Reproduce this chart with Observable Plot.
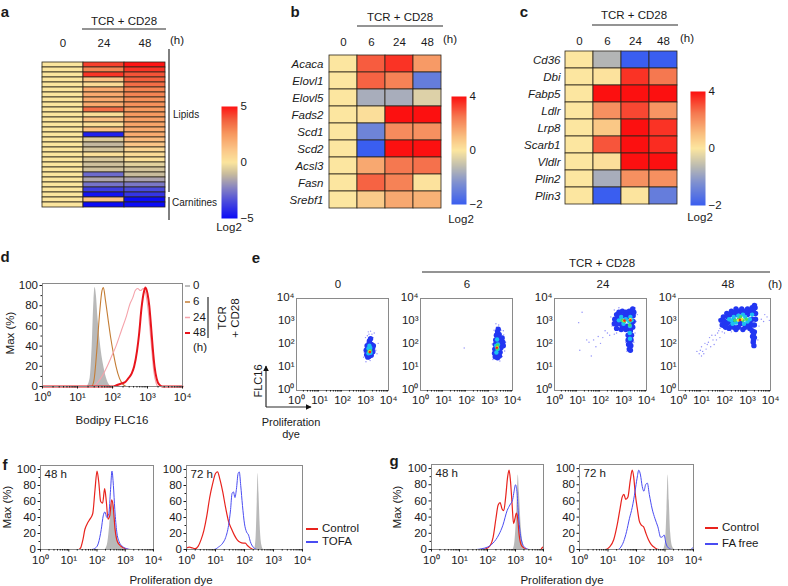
<!DOCTYPE html>
<html><head><meta charset="utf-8">
<script src="https://cdn.jsdelivr.net/npm/d3@7"></script>
<script src="https://cdn.jsdelivr.net/npm/@observablehq/plot@0.6"></script>
<style>
body{margin:0;background:#fff;}
#fig{position:relative;width:788px;height:586px;overflow:hidden;font-family:'Liberation Sans',Arial,Helvetica,sans-serif;color:#1a1a1a;background:#fff;}
#fig svg{position:absolute;}
.t{position:absolute;white-space:nowrap;line-height:1;}
</style></head>
<body><div id="fig"></div>
<script>
// ================= DATA =================
// Panel a: lipid / carnitine metabolites (log2 fold change)
const aCols = ["0", "24", "48"];
const aRowCount = 29; // 25 lipids + 4 carnitines
const a0  = [0,0,0,0,0,0,0,0,0,0,0,0,0,0,0,0,0,0,0,0,0,0,0,0,0,0,0,0,0];
const a24 = [4.3,3,4.5,1.2,0.4,2,2,2,2,3.5,0.3,1.3,0.3,1.3,-4.5,-0.6,-1.1,-0.8,0.2,-0.7,-0.9,-0.9,-2.8,-1.5,-2.6,-3.8,-4.8,1.2,-5];
const a48 = [5,4.5,4,3.8,3.5,3,3,2.7,2.7,2.5,2.5,2.3,2.2,2,2,1.5,1.2,0.6,0.4,0.2,-0.5,-0.8,-1,-1.6,-2.5,-3.5,-4,-5,-5];
const legendA = [-5, 0, 5];

// Panel b: lipid synthesis genes
const bCols = ["0", "6", "24", "48"];
const bGenes = ["Acaca","Elovl1","Elovl5","Fads2","Scd1","Scd2","Acsl3","Fasn","Srebf1"];
const b0  = [0,0,0,0,0,0,0,0,0];
const b6  = [2.9,2.8,-0.8,0.2,-1.4,-2,1.5,2.8,0.7];
const b24 = [3.5,2.3,-0.8,4,2.1,4,2.5,2.3,1.5];
const b48 = [1.8,-1.5,-0.3,4,2,4,2.6,0.1,1.3];

// Panel c: lipid uptake / storage genes
const cCols = ["0", "6", "24", "48"];
const cGenes = ["Cd36","Dbi","Fabp5","Ldlr","Lrp8","Scarb1","Vldlr","Plin2","Plin3"];
const c0  = [0,0,0,0,0,0,0,0,0];
const c6  = [-0.7,0.1,4,2,0.8,3,0.2,-0.8,-2];
const c24 = [-2,3.5,4,3.2,4,4,4,2,0.05];
const c48 = [-2,2.5,4,1.9,3.5,3.6,4,2,-1.5];
const legendBC = [-2, 0, 4];

// Panel d: Bodipy FLC16 histograms [log10 intensity, % of max]
const d0h  = [[1.28,0],[1.36,8],[1.42,40],[1.47,85],[1.5,98],[1.54,90],[1.58,70],[1.63,50],[1.68,35],[1.75,20],[1.85,6],[1.95,0]];
const d6h  = [[0,0],[1.4,0],[1.47,6],[1.55,35],[1.63,72],[1.7,95],[1.74,98],[1.8,85],[1.88,65],[1.95,48],[2.03,32],[2.1,20],[2.2,8],[2.3,2],[2.4,0],[4,0]];
const d24h = [[0,0],[1.45,0],[1.55,3],[1.7,10],[1.85,20],[1.95,28],[2.1,40],[2.25,55],[2.4,70],[2.5,82],[2.58,88],[2.65,95],[2.72,97],[2.8,95],[2.88,97],[2.95,92],[3.02,75],[3.1,45],[3.18,15],[3.25,3],[3.3,0],[4,0]];
const d48h = [[0,0],[2.0,0],[2.1,1],[2.25,3],[2.35,4],[2.45,8],[2.55,13],[2.62,20],[2.7,35],[2.76,52],[2.83,78],[2.9,94],[2.94,98],[3.0,92],[3.05,80],[3.1,60],[3.15,38],[3.2,20],[3.26,8],[3.33,2],[3.42,0],[4,0]];
const dLegend = ["0", "6", "24", "48"];

// Panel e: FLC16 vs proliferation dye [log10 dye, log10 FLC16, density level 0-5]
const e0Pts = [
 [3.0,2.3,0],[3.15,2.45,0],[3.22,2.58,0],[3.33,2.3,0],[3.42,1.95,0],[3.5,1.6,0],[2.95,1.65,0],[3.08,2.38,0],[3.28,2.45,0],[3.45,1.75,0],[2.92,1.45,0],[3.2,1.3,0],[3.55,2.05,0],[3.02,1.25,0],[3.38,2.5,0],[3.12,2.55,0],
 [3.05,1.55,1],[3.15,1.48,1],[3.25,1.53,1],[3.32,1.68,1],[3.31,1.85,1],[3.26,2.0,1],[3.16,2.06,1],[3.07,1.95,1],[3.03,1.75,1],[3.12,1.68,1],[3.22,1.8,1],[3.17,2.15,1],[3.22,2.25,1],[3.34,1.95,1],[3.1,1.45,1],[3.18,1.9,1],[3.1,1.85,1],
 [3.13,1.62,2],[3.22,1.64,2],[3.21,1.85,2],[3.13,1.83,2],[3.17,1.95,2],
 [3.16,1.7,3],[3.21,1.74,3],
 [3.18,1.7,4],
 [3.19,1.67,5]
];
const e6Pts = [
 [3.3,2.75,0],[3.4,2.85,0],[3.2,2.62,0],[3.5,2.62,0],[3.62,2.42,0],[3.7,2.1,0],[3.66,1.72,0],[3.15,1.35,0],[3.45,1.28,0],[3.12,2.02,0],[1.9,1.85,0],[3.56,1.48,0],[3.28,2.9,0],[3.6,2.6,0],
 [3.25,1.47,1],[3.35,1.42,1],[3.43,1.5,1],[3.46,1.66,1],[3.5,1.86,1],[3.48,2.05,1],[3.45,2.25,1],[3.42,2.44,1],[3.35,2.56,1],[3.3,2.4,1],[3.27,2.2,1],[3.25,2.0,1],[3.23,1.8,1],[3.22,1.62,1],[3.33,1.7,1],[3.38,2.1,1],[3.58,2.1,1],[3.6,1.95,1],[3.55,2.28,1],[3.38,2.66,1],[3.38,2.35,1],[3.4,1.6,1],
 [3.3,1.65,2],[3.36,1.8,2],[3.37,2.0,2],[3.33,2.22,2],[3.29,1.95,2],
 [3.33,1.82,3],[3.35,1.96,3],
 [3.33,1.88,4],
 [3.32,1.86,5]
];
const e24Pts = [
 [2.5,2.8,0],[2.45,3.2,0],[2.6,3.5,0],[2.8,3.6,0],[3.5,3.6,0],[3.55,3.0,0],[3.5,2.5,0],[3.45,2.1,0],[3.1,2.1,0],[3.15,1.7,0],[2.3,2.5,0],[2.1,2.3,0],[1.9,2.35,0],[1.7,2.2,0],[1.5,2.1,0],[2.0,2.05,0],[2.2,2.6,0],[1.4,2.2,0],[1.1,1.75,0],[1.6,1.5,0],[1.2,3.4,0],[1.05,2.95,0],[2.4,2.4,0],[2.6,2.45,0],[1.8,1.9,0],[2.7,2.5,0],[3.6,3.3,0],
 [2.6,2.9,1],[2.62,3.1,1],[2.7,3.3,1],[2.8,3.4,1],[2.95,3.45,1],[3.1,3.4,1],[3.25,3.45,1],[3.38,3.45,1],[3.42,3.25,1],[3.42,3.0,1],[3.4,2.75,1],[3.3,2.6,1],[3.1,2.65,1],[2.9,2.65,1],[2.7,2.7,1],[2.85,2.9,1],[3.0,3.25,1],[3.2,3.2,1],
 [2.7,2.9,1],[2.75,3.15,1],[2.85,3.3,1],[2.95,2.8,1],[3.05,2.75,1],[3.15,2.8,1],[3.15,3.3,1],[3.35,3.35,1],[3.35,2.85,1],[3.25,2.7,1],[2.68,3.05,1],[3.3,3.3,1],
 [3.2,2.4,1],[3.35,2.4,1],[3.2,2.2,1],[3.33,2.2,1],[3.22,2.0,1],[3.32,1.95,1],[3.25,1.8,1],[3.3,1.75,1],[3.45,3.4,1],[3.4,3.55,1],[3.27,2.3,1],[3.27,2.05,1],
 [2.8,3.05,2],[2.9,3.2,2],[3.0,2.9,2],[3.1,3.1,2],[3.25,3.0,2],[3.3,3.2,2],[3.28,2.8,2],[3.27,2.5,2],[3.28,2.25,2],[2.95,3.05,2],[3.35,3.05,2],
 [2.95,3.05,3],[3.05,3.0,3],[3.3,3.05,3],[3.27,2.85,3],
 [3.02,3.03,4],[3.3,3.1,4],
 [3.04,3.04,5],[3.3,3.05,5]
];
const e48Pts = [
 [0.9,1.6,0],[1.0,1.9,0],[1.2,1.8,0],[1.3,2.1,0],[1.5,2.2,0],[1.6,2.4,0],[1.7,2.5,0],[1.4,1.9,0],[1.1,1.6,0],[0.95,1.75,0],[1.25,2.0,0],[1.55,2.0,0],[1.8,2.3,0],[1.9,2.55,0],[1.35,2.3,0],[1.65,2.2,0],[1.0,1.5,0],[0.8,1.7,0],[1.15,2.05,0],[1.45,2.4,0],[1.05,1.7,0],[1.75,2.6,0],
 [3.6,3.1,0],[3.7,3.0,0],[3.85,3.2,0],[3.95,3.05,0],[3.75,3.3,0],[3.5,2.8,0],[3.45,2.2,0],[3.4,3.75,0],[1.75,3.1,0],[1.8,2.7,0],[2.0,2.5,0],[2.3,2.55,0],
 [1.9,2.85,1],[1.85,3.05,1],[1.95,3.2,1],[2.1,3.35,1],[2.3,3.45,1],[2.5,3.55,1],[2.75,3.55,1],[3.0,3.55,1],[3.2,3.6,1],[3.33,3.6,1],[3.35,3.35,1],[3.35,3.1,1],[3.3,2.85,1],[3.1,2.7,1],[2.8,2.65,1],[2.5,2.65,1],[2.2,2.7,1],[2.0,2.8,1],[2.2,3.0,1],[2.5,3.3,1],[3.0,3.3,1],[3.1,2.95,1],
 [2.0,3.0,1],[2.1,2.9,1],[2.15,3.2,1],[2.3,3.3,1],[2.3,2.8,1],[2.45,3.4,1],[2.6,3.45,1],[2.6,2.75,1],[2.75,3.4,1],[2.9,3.45,1],[2.9,2.75,1],[3.05,3.45,1],[3.15,3.45,1],[3.2,3.1,1],[3.2,2.85,1],[3.25,3.5,1],[2.4,2.75,1],[2.05,2.75,1],[2.4,3.05,1],[2.7,3.0,1],[3.0,2.85,1],
 [3.2,2.6,1],[3.3,2.55,1],[3.22,2.35,1],[3.3,2.3,1],[3.25,2.1,1],[3.28,1.95,1],[3.3,3.7,1],[2.7,2.9,1],[3.26,2.45,1],[3.26,2.2,1],
 [2.2,3.1,2],[2.4,3.2,2],[2.5,2.95,2],[2.6,3.25,2],[2.9,3.2,2],[2.85,2.9,2],[3.1,3.1,2],[3.2,3.3,2],[2.35,2.9,2],[3.0,3.0,2],[2.3,3.05,2],[2.8,3.3,2],
 [2.45,3.05,3],[2.6,3.1,3],[2.8,3.05,3],[2.95,3.1,3],[2.7,3.2,3],
 [2.6,3.05,4],[2.75,3.1,4],
 [2.67,3.07,5]
];
const eTimes = ["0", "6", "24", "48"];

// Panel f: proliferation dye, Control vs TOFA [log10 dye, % of max]
const f48Grey = [[2.3,0],[2.38,8],[2.45,30],[2.5,50],[2.55,58],[2.6,50],[2.68,25],[2.78,8],[2.9,2],[3.0,0]];
const f48Ctrl = [[0,0],[1.35,0],[1.42,2],[1.5,12],[1.57,25],[1.65,32],[1.75,38],[1.85,45],[1.93,75],[2.0,98],[2.06,85],[2.13,60],[2.2,58],[2.27,76],[2.33,60],[2.39,38],[2.45,42],[2.52,62],[2.57,55],[2.64,25],[2.72,10],[2.85,4],[3.0,1],[3.15,0],[4,0]];
const f48Tofa = [[0,0],[1.8,0],[1.95,2],[2.05,8],[2.15,25],[2.22,42],[2.28,47],[2.35,40],[2.42,45],[2.48,75],[2.53,98],[2.58,80],[2.63,50],[2.7,22],[2.78,10],[2.9,4],[3.05,1],[3.2,0],[4,0]];
const f72Grey = [[2.35,0],[2.4,15],[2.44,60],[2.47,95],[2.5,70],[2.54,30],[2.6,5],[2.65,0]];
const f72Ctrl = [[0,2],[0.1,3],[0.2,2],[0.3,1],[0.4,4],[0.5,12],[0.6,24],[0.7,42],[0.8,65],[0.9,82],[1.0,95],[1.07,97],[1.15,88],[1.25,72],[1.35,52],[1.45,35],[1.55,26],[1.65,18],[1.75,12],[1.85,9],[1.95,8],[2.03,8],[2.1,5],[2.2,2],[2.35,0],[4,0]];
const f72Tofa = [[0,0],[0.95,0],[1.1,3],[1.25,8],[1.35,15],[1.45,30],[1.52,50],[1.57,70],[1.62,72],[1.67,65],[1.72,75],[1.78,95],[1.82,97],[1.87,80],[1.93,55],[2.0,32],[2.07,22],[2.14,18],[2.2,10],[2.3,3],[2.45,0],[4,0]];
const fSeries = ["Control", "TOFA"];

// Panel g: proliferation dye, Control vs FA free
const g48Grey = [[2.92,0],[2.98,10],[3.05,50],[3.1,92],[3.14,70],[3.2,30],[3.27,8],[3.35,0]];
const g48Ctrl = [[0,0],[1.8,0],[1.95,1],[2.1,5],[2.2,15],[2.3,38],[2.38,55],[2.45,58],[2.52,50],[2.58,48],[2.65,65],[2.72,90],[2.77,98],[2.82,85],[2.88,55],[2.93,32],[2.98,38],[3.03,45],[3.08,38],[3.13,18],[3.2,6],[3.3,2],[3.45,0],[3.9,0],[3.97,3],[4,1]];
const g48Fafree = [[0,0],[1.6,0],[1.8,1],[2.0,3],[2.2,8],[2.4,18],[2.55,30],[2.7,48],[2.8,55],[2.9,62],[2.95,72],[3.0,80],[3.05,72],[3.1,45],[3.17,20],[3.25,7],[3.35,2],[3.5,0],[4,0]];
const g72Grey = [[2.95,0],[3.02,10],[3.07,50],[3.11,92],[3.15,60],[3.2,20],[3.27,3],[3.33,0]];
const g72Ctrl = [[0,0],[0.9,0],[1.05,3],[1.2,12],[1.32,30],[1.42,50],[1.5,65],[1.56,68],[1.62,62],[1.7,65],[1.78,85],[1.85,98],[1.9,90],[1.96,68],[2.03,50],[2.1,35],[2.17,30],[2.25,28],[2.33,20],[2.42,12],[2.52,6],[2.65,2],[2.8,0],[4,0]];
const g72Fafree = [[0,0],[1.35,0],[1.45,3],[1.55,10],[1.65,22],[1.75,38],[1.85,52],[1.95,72],[2.02,88],[2.08,98],[2.14,92],[2.2,78],[2.26,72],[2.32,80],[2.38,82],[2.45,68],[2.55,50],[2.65,38],[2.75,28],[2.85,15],[2.92,16],[2.97,18],[3.03,8],[3.12,2],[3.25,0],[3.9,0],[3.97,2],[4,1]];
const gSeries = ["Control", "FA free"];

// Axis tick values
const decades = [1, 10, 100, 1000, 10000];
const pctMajor = [0, 20, 40, 60, 80, 100];
const pctMinor = [10, 30, 50, 70, 90];

// ================= HELPERS =================
const fig = document.getElementById("fig");
const FONT = "'Liberation Sans', Arial, Helvetica, sans-serif";
const baseStyle = {fontFamily: FONT, fontSize: "11px", color: "#1a1a1a", background: "transparent", overflow: "visible"};
const fmtMinus = v => (v < 0 ? "\u2212" + Math.abs(v) : String(v));
const SUP = {0: "\u2070", 1: "\u00b9", 2: "\u00b2", 3: "\u00b3", 4: "\u2074"};
const pow10 = v => "10" + SUP[Math.round(Math.log10(v))];
const minorX = [];
for (const k of [1, 10, 100, 1000]) for (const m of [2,3,4,5,6,7,8,9]) minorX.push(k * m);

function place(node, fx, fy, mL, mT) {
  node.style.position = "absolute";
  node.style.left = (fx - mL) + "px";
  node.style.top = (fy - mT) + "px";
  fig.appendChild(node);
}
function label(str, x, y, o = {}) {
  const d = document.createElement("div");
  d.className = "t";
  if (o.html) d.innerHTML = str; else d.textContent = str;
  const tx = o.anchor === "start" ? "0" : o.anchor === "end" ? "-100%" : "-50%";
  d.style.left = x + "px";
  d.style.top = y + "px";
  d.style.fontSize = (o.size || 11) + "px";
  if (o.bold) d.style.fontWeight = "bold";
  if (o.italic) d.style.fontStyle = "italic";
  if (o.align) d.style.textAlign = o.align;
  if (o.lh) d.style.lineHeight = o.lh;
  d.style.transform = `translate(${tx},-50%)` + (o.rotate ? ` rotate(${o.rotate}deg)` : "");
  fig.appendChild(d);
}

const colorA = {type: "linear", domain: [-5, -3.5, -2.2, -1, 0, 1.2, 2.5, 3.8, 5],
  range: ["#0b0bf6", "#4a4adc", "#8a86c0", "#c9bc9c", "#fbe59d", "#fbc486", "#f79a60", "#f2603e", "#ff1414"]};
const colorBC = {type: "linear", domain: [-2, -1.2, -0.6, 0, 1, 2.5, 4],
  range: ["#3a5ef0", "#7f90d0", "#bdbcb0", "#fce6a0", "#f9c080", "#f57850", "#fc1010"]};

function heatmap({cols, rows, series, color, fx, fy, fw, fh, mL, rowLabels, pad}) {
  const data = [];
  rows.forEach((r, i) => cols.forEach((c, j) => data.push({row: r, col: c, v: series[j][i]})));
  const mT = 24, mB = 2, mR = 2;
  const marks = [
    Plot.cell(data, {x: "col", y: "row", fill: "v", stroke: "#2b2519", strokeWidth: 0.8, inset: 0}),
    Plot.axisX({anchor: "top", tickSize: 0, tickPadding: pad, label: null})
  ];
  if (rowLabels) marks.push(Plot.axisY({anchor: "left", tickSize: 0, tickPadding: 4, label: null, fontStyle: "italic"}));
  const p = Plot.plot({
    width: fw + mL + mR, height: fh + mT + mB,
    marginLeft: mL, marginRight: mR, marginTop: mT, marginBottom: mB,
    x: {domain: cols, padding: 0, axis: null},
    y: {domain: rows, padding: 0, axis: null},
    color, style: {...baseStyle, fontSize: "11.5px"},
    marks
  });
  place(p, fx, fy, mL, mT);
}

function colorbar({fx, fy, fw, fh, color, ticks, toValue, fmt}) {
  const mL = 0, mR = 24, mT = 7, mB = 7;
  const p = Plot.plot({
    width: fw + mL + mR, height: fh + mT + mB,
    marginLeft: mL, marginRight: mR, marginTop: mT, marginBottom: mB,
    x: {domain: [0, 1], axis: null},
    y: {domain: [0, 1], axis: null},
    color, style: {...baseStyle, fontSize: "11.5px"},
    marks: [
      Plot.raster({fill: (x, y) => toValue(y), x1: 0, x2: 1, y1: 0, y2: 1}),
      Plot.axisY({anchor: "right", ticks, tickFormat: fmt, tickSize: 0, tickPadding: 3, label: null})
    ]
  });
  place(p, fx, fy, mL, mT);
}

function hist({fx, fy, fw, fh, ymax, grey, lines, title}) {
  const mL = 30, mR = 4, mT = 4, mB = 20;
  const X = d => 10 ** d[0], Y = d => d[1];
  const marks = [];
  if (grey) marks.push(Plot.areaY(grey, {x: X, y: Y, fill: "#b9b9b9", curve: "monotone-x"}));
  for (const L of lines) marks.push(Plot.line(L.data, {x: X, y: Y, stroke: L.color, strokeWidth: L.w, curve: "monotone-x"}));
  marks.push(
    Plot.frame({stroke: "#8a8a8a"}),
    Plot.axisX({ticks: decades, tickFormat: pow10, tickSize: 2.5, tickPadding: 3.5, label: null}),
    Plot.axisX({ticks: minorX, tickFormat: () => "", tickSize: 1.5, label: null}),
    Plot.axisY({ticks: pctMajor, tickSize: 2.5, tickPadding: 2, label: null}),
    Plot.axisY({ticks: pctMinor, tickFormat: () => "", tickSize: 1.5, label: null})
  );
  if (title) marks.push(Plot.text([title], {text: d => d, frameAnchor: "top-left", dx: 4, dy: 4, lineAnchor: "top", fontSize: 11.5}));
  const p = Plot.plot({
    width: fw + mL + mR, height: fh + mT + mB,
    marginLeft: mL, marginRight: mR, marginTop: mT, marginBottom: mB,
    x: {type: "log", domain: [1, 1e4]},
    y: {domain: [0, ymax]},
    style: {...baseStyle, fontSize: "11.5px"},
    marks
  });
  place(p, fx, fy, mL, mT);
}

const jet = ["#6a6af6", "#2236f2", "#1cc0f2", "#40dc6c", "#f0ec2a", "#f2261a"];
const dotR = [0.7, 2.7, 2.2, 1.8, 1.5, 1.3];
function scatter({fx, fy, pts}) {
  const fw = 92, fh = 92, mL = 24, mR = 6, mT = 4, mB = 20;
  const marks = [0, 1, 2, 3, 4, 5].map(l => Plot.dot(pts.filter(p => p[2] === l), {
    x: p => 10 ** p[0], y: p => 10 ** p[1], r: dotR[l], fill: jet[l], fillOpacity: l === 0 ? 0.75 : 1
  }));
  marks.push(
    Plot.frame({stroke: "#8a8a8a"}),
    Plot.axisX({ticks: decades, tickFormat: pow10, tickSize: 0, tickPadding: 5, label: null}),
    Plot.axisX({ticks: minorX, tickFormat: () => "", tickSize: 1.5, label: null}),
    Plot.axisY({ticks: decades, tickFormat: pow10, tickSize: 0, tickPadding: 2, dy: -1.5, label: null})
  );
  const p = Plot.plot({
    width: fw + mL + mR, height: fh + mT + mB,
    marginLeft: mL, marginRight: mR, marginTop: mT, marginBottom: mB,
    x: {type: "log", domain: [1, 1e4]},
    y: {type: "log", domain: [1, 1e4]},
    style: {...baseStyle, fontSize: "11.5px"},
    marks
  });
  place(p, fx, fy, mL, mT);
}

// ================= PANEL a =================
heatmap({cols: aCols, rows: d3.range(aRowCount), series: [a0, a24, a48], color: colorA,
  fx: 41, fy: 49, fw: 125, fh: 171, mL: 2, rowLabels: false, pad: 3});
colorbar({fx: 221, fy: 106, fw: 16, fh: 112, color: colorA,
  ticks: [0, 0.5, 1], toValue: t => d3.scaleLinear([0, 1], [legendA[0], legendA[2]])(t),
  fmt: t => fmtMinus(d3.scaleLinear([0, 0.5, 1], legendA)(t))});

// ================= PANEL b / c =================
const posBC = d3.scaleLinear([0, 0.5, 1], legendBC);
heatmap({cols: bCols, rows: bGenes, series: [b0, b6, b24, b48], color: colorBC,
  fx: 327, fy: 52, fw: 115, fh: 159, mL: 60, rowLabels: true, pad: 7});
colorbar({fx: 451, fy: 96, fw: 15, fh: 108, color: colorBC, ticks: [0, 0.5, 1],
  toValue: t => posBC(t), fmt: t => fmtMinus(posBC(t))});
heatmap({cols: cCols, rows: cGenes, series: [c0, c6, c24, c48], color: colorBC,
  fx: 564, fy: 48, fw: 114, fh: 159, mL: 60, rowLabels: true, pad: 4});
colorbar({fx: 690, fy: 91, fw: 15, fh: 114, color: colorBC, ticks: [0, 0.5, 1],
  toValue: t => posBC(t), fmt: t => fmtMinus(posBC(t))});

// ================= PANEL d =================
const dColors = ["#a9a9a9", "#c47d35", "#f5a3ab", "#e8141c"];
hist({fx: 42, fy: 283, fw: 140, fh: 103, ymax: 102, grey: d0h, lines: [
  {data: d6h, color: dColors[1], w: 1.1},
  {data: d24h, color: dColors[2], w: 1.1},
  {data: d48h, color: dColors[3], w: 2}
]});

// ================= PANEL e =================
const ePts = [e0Pts, e6Pts, e24Pts, e48Pts];
const eFx = [296, 420, 554, 678];
ePts.forEach((pts, i) => scatter({fx: eFx[i], fy: 298, pts}));

// ================= PANEL f / g =================
const ctrlRed = "#e8231d", blue = "#4a4cf2";
hist({fx: 40, fy: 465, fw: 113, fh: 84, ymax: 105, grey: f48Grey, title: "48 h", lines: [
  {data: f48Ctrl, color: ctrlRed, w: 1.2}, {data: f48Tofa, color: blue, w: 1}]});
hist({fx: 186, fy: 465, fw: 116, fh: 84, ymax: 105, grey: f72Grey, title: "72 h", lines: [
  {data: f72Ctrl, color: ctrlRed, w: 1.2}, {data: f72Tofa, color: blue, w: 1}]});
hist({fx: 431, fy: 464, fw: 112, fh: 85, ymax: 105, grey: g48Grey, title: "48 h", lines: [
  {data: g48Ctrl, color: ctrlRed, w: 1.2}, {data: g48Fafree, color: blue, w: 1}]});
hist({fx: 579, fy: 464, fw: 114, fh: 85, ymax: 105, grey: g72Grey, title: "72 h", lines: [
  {data: g72Ctrl, color: ctrlRed, w: 1.2}, {data: g72Fafree, color: blue, w: 1}]});

// ================= ANNOTATION LINES =================
const ns = "http://www.w3.org/2000/svg";
const ov = document.createElementNS(ns, "svg");
ov.setAttribute("width", 788); ov.setAttribute("height", 586);
ov.style.left = "0px"; ov.style.top = "0px"; ov.style.pointerEvents = "none";
ov.innerHTML = `
<defs><marker id="ah" viewBox="0 0 10 10" refX="9" refY="5" markerWidth="5" markerHeight="5" orient="auto"><path d="M0,0L10,5L0,10z" fill="#111"/></marker></defs>
<g stroke="#2a2a2a" stroke-width="1.2" fill="none">
<line x1="82" y1="29" x2="166" y2="29"/>
<line x1="169" y1="49" x2="169" y2="192"/>
<line x1="169" y1="197" x2="169" y2="220"/>
<line x1="357" y1="26" x2="443" y2="26"/>
<line x1="592" y1="25" x2="678" y2="25"/>
<line x1="208" y1="297" x2="208" y2="338"/>
<line x1="422" y1="272" x2="770" y2="272"/>
<line x1="266" y1="407" x2="266" y2="366" marker-end="url(#ah)"/>
<line x1="266" y1="407" x2="311" y2="407" marker-end="url(#ah)"/>
</g>
<g stroke-width="1.5">
<line x1="185" y1="286" x2="190" y2="286" stroke="${dColors[0]}"/>
<line x1="185" y1="302" x2="190" y2="302" stroke="${dColors[1]}"/>
<line x1="185" y1="317.5" x2="190" y2="317.5" stroke="${dColors[2]}"/>
<line x1="185" y1="333" x2="190" y2="333" stroke="${dColors[3]}" stroke-width="2"/>
<line x1="306" y1="529" x2="318" y2="529" stroke="${ctrlRed}" stroke-width="2"/>
<line x1="306" y1="542" x2="318" y2="542" stroke="${blue}" stroke-width="2"/>
<line x1="705" y1="528" x2="718" y2="528" stroke="${ctrlRed}" stroke-width="2"/>
<line x1="705" y1="544" x2="718" y2="544" stroke="${blue}" stroke-width="2"/>
</g>`;
fig.appendChild(ov);

// ================= TEXT =================
label("a", 5, 11, {size: 15, bold: true});
label("b", 295, 11, {size: 15, bold: true});
label("c", 524, 11, {size: 15, bold: true});
label("d", 5, 256, {size: 15, bold: true});
label("e", 256, 257, {size: 15, bold: true});
label("f", 5, 464, {size: 15, bold: true});
label("g", 394, 460, {size: 15, bold: true});
// a
label("TCR + CD28", 124, 22, {size: 11.5});
label("(h)", 177, 41, {size: 11.5});
label("Lipids", 173, 115, {size: 10, anchor: "start"});
label("Carnitines", 172, 203, {size: 10, anchor: "start"});
label("Log2", 229, 228, {size: 11.5});
// b
label("TCR + CD28", 400, 17.5, {size: 11.5});
label("(h)", 450, 40, {size: 11.5});
label("Log2", 461, 220, {size: 11.5});
// c
label("TCR + CD28", 634, 15.5, {size: 11.5});
label("(h)", 687, 39, {size: 11.5});
label("Log2", 700, 218, {size: 11.5});
// d
label("Max (%)", 11, 333, {size: 11.5, rotate: -90});
label("Bodipy FLC16", 112, 421, {size: 11.5});
dLegend.forEach((t, i) => label(t, 193, [286, 302, 317.5, 333][i], {size: 11.5, anchor: "start"}));
label("(h)", 193, 348, {size: 11.5, anchor: "start"});
label("TCR<br>+ CD28", 229, 318, {size: 11.5, rotate: -90, html: true, align: "center", lh: "1.1"});
// e
label("TCR + CD28", 602, 264, {size: 11.5});
[338, 467, 603, 728].forEach((x, i) => label(eTimes[i], x, 285, {size: 11.5}));
label("(h)", 775, 285, {size: 11.5});
label("FLC16", 258, 381, {size: 11, rotate: -90});
label("Proliferation", 291, 422, {size: 11});
label("dye", 291, 434, {size: 11});
// f
label("Max (%)", 8, 507, {size: 11.5, rotate: -90});
label("Proliferation dye", 171, 581, {size: 11.5});
label(fSeries[0], 322, 529, {size: 11.5, anchor: "start"});
label(fSeries[1], 322, 542, {size: 11.5, anchor: "start"});
// g
label("Max (%)", 398, 507, {size: 11.5, rotate: -90});
label("Proliferation dye", 562, 581, {size: 11.5});
label(gSeries[0], 722, 528, {size: 11.5, anchor: "start"});
label(gSeries[1], 722, 544, {size: 11.5, anchor: "start"});
</script>
</body></html>
